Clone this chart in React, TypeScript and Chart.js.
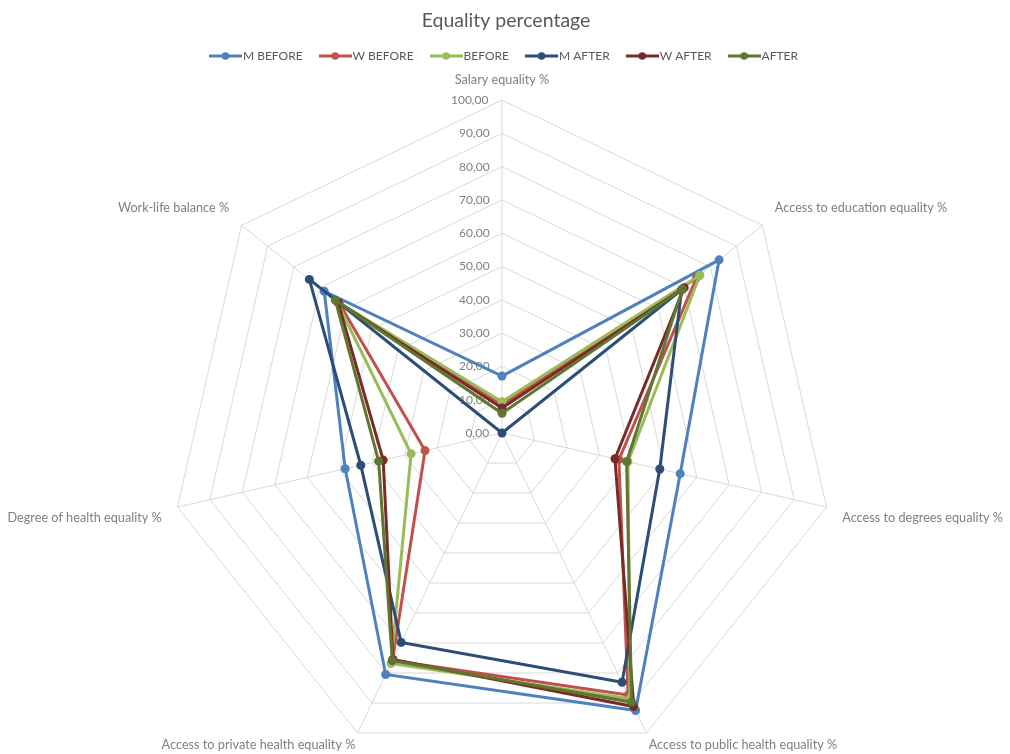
import React, { useEffect, useRef } from 'react';
import { Chart, registerables } from 'chart.js';

Chart.register(...registerables);

const categories = [
  'Salary equality %',
  'Access to education equality %',
  'Access to degrees equality %',
  'Access to public health equality %',
  'Access to private health equality %',
  'Degree of health equality %',
  'Work-life balance %',
];

const seriesNames = ['M BEFORE', 'W BEFORE', 'BEFORE', 'M AFTER', 'W AFTER', 'AFTER'];
const mBefore = [17.1, 83.4, 54.9, 92.5, 80.5, 48.3, 68.3];
const wBefore = [8.4, 74.7, 36.0, 87.3, 75.8, 23.7, 62.5];
const before = [9.4, 76.0, 38.8, 88.6, 76.8, 28.0, 63.5];
const mAfter = [0.0, 69.0, 48.6, 83.1, 69.8, 43.5, 74.0];
const wAfter = [7.5, 70.0, 34.8, 91.2, 75.5, 36.6, 63.0];
const after = [5.9, 69.3, 38.4, 89.7, 75.9, 38.0, 64.0];
const seriesValues = [mBefore, wBefore, before, mAfter, wAfter, after];
const seriesColors = ['#4F81BD', '#C0504D', '#9BBB59', '#2C4D75', '#772C2A', '#5F7530'];

const tickMin = -0.001;
const tickMax = 100;
const tickStep = 10;

const FONT = "Lato, 'Open Sans', sans-serif";

function makeLegendIcon(color: string) {
  const c = document.createElement('canvas');
  c.width = 33;
  c.height = 10;
  const g = c.getContext('2d')!;
  g.strokeStyle = color;
  g.lineWidth = 3;
  g.beginPath();
  g.moveTo(0, 5);
  g.lineTo(33, 5);
  g.stroke();
  g.fillStyle = color;
  g.beginPath();
  g.arc(16.5, 5, 3.8, 0, Math.PI * 2);
  g.fill();
  return c;
}

let measureCtx: CanvasRenderingContext2D | null = null;
function formatTick(v: number) {
  const s = Math.abs(Math.round(v)).toFixed(2).replace('.', ',');
  if (!measureCtx) measureCtx = document.createElement('canvas').getContext('2d');
  measureCtx!.font = `12px ${FONT}`;
  const w = measureCtx!.measureText(s).width;
  const sw = measureCtx!.measureText(' ').width;
  const n = Math.max(0, Math.round((w + 26) / sw));
  return s + ' '.repeat(n);
}

const labelPadding = [6.8, 10, 10, -1, -1, 10, 10];

export default function App() {
  const canvasRef = useRef<HTMLCanvasElement>(null);

  useEffect(() => {
    const icons = seriesColors.map(makeLegendIcon);
    const chart = new Chart(canvasRef.current!, {
      type: 'radar',
      data: {
        labels: categories,
        datasets: seriesNames.map((name, i) => ({
          label: name,
          data: seriesValues[i],
          borderColor: seriesColors[i],
          backgroundColor: seriesColors[i],
          pointBackgroundColor: seriesColors[i],
          pointBorderColor: seriesColors[i],
          borderWidth: 3,
          pointRadius: 4.5,
          pointBorderWidth: 0,
          fill: false,
          tension: 0,
          order: seriesNames.length - i,
        })),
      },
      options: {
        animation: false,
        responsive: true,
        maintainAspectRatio: false,
        layout: { padding: { left: 2, right: 0, top: 0, bottom: 0 } },
        plugins: {
          title: {
            display: true,
            text: 'Equality percentage',
            color: '#595959',
            font: { family: FONT, size: 19.5, weight: 'normal' },
            padding: { top: 8.6, bottom: -3 },
          },
          legend: {
            display: true,
            position: 'top',
            maxHeight: 32,
            labels: {
              usePointStyle: true,
              pointStyleWidth: 23,
              boxHeight: 10,
              color: '#595959',
              padding: 21,
              font: { family: FONT, size: 12 },
              sort: (a: any, b: any) => a.datasetIndex - b.datasetIndex,
              generateLabels: (ch: any) => {
                const items = (Chart.defaults.plugins.legend.labels as any).generateLabels(ch);
                items.forEach((it: any) => {
                  it.pointStyle = icons[it.datasetIndex];
                });
                return items;
              },
            },
          },
          tooltip: { enabled: false },
        },
        scales: {
          r: {
            min: tickMin,
            max: tickMax,
            ticks: {
              stepSize: tickStep,
              showLabelBackdrop: false,
              backdropPadding: 0,
              color: '#7f7f7f',
              font: { family: FONT, size: 12 },
              callback: (v: any) => formatTick(Number(v)),
            },
            grid: { color: '#d9d9d9', lineWidth: 1 },
            angleLines: { color: '#d9d9d9', lineWidth: 1 },
            pointLabels: {
              color: '#7f7f7f',
              font: { family: FONT, size: 12.7 },
              padding: (ctx: any) => labelPadding[ctx.index] ?? 5,
            },
          },
        },
      },
    });
    return () => chart.destroy();
  }, []);

  return (
    <div style={{ position: 'fixed', left: 0, top: 0, width: 1010, height: 754, overflow: 'hidden', background: '#fff' }}>
      <div style={{ position: 'absolute', left: 0, top: 0, width: 1010, height: 783 }}>
        <canvas ref={canvasRef} />
      </div>
    </div>
  );
}
